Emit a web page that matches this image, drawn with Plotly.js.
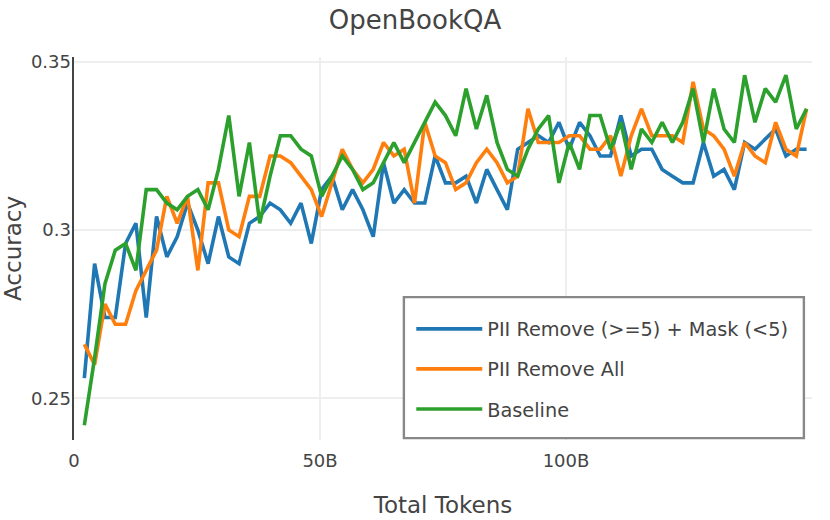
<!DOCTYPE html>
<html>
<head>
<meta charset="utf-8">
<script src="https://cdn.plot.ly/plotly-3.0.1.min.js"></script>
<style>html,body{margin:0;padding:0;background:#fff;}#chart{width:830px;height:520px;}</style>
</head>
<body>
<div id="chart"></div>
<script>
// Total tokens (billions)
const tokensB = [2.10,4.19,6.29,8.39,10.49,12.58,14.68,16.78,18.87,20.97,23.07,25.17,27.26,29.36,31.46,33.55,35.65,37.75,39.85,41.94,44.04,46.14,48.23,50.33,52.43,54.53,56.62,58.72,60.82,62.91,65.01,67.11,69.21,71.30,73.40,75.50,77.59,79.69,81.79,83.89,85.98,88.08,90.18,92.27,94.37,96.47,98.57,100.66,102.76,104.86,106.95,109.05,111.15,113.25,115.34,117.44,119.54,121.63,123.73,125.83,127.93,130.02,132.12,134.22,136.31,138.41,140.51,142.61,144.70,146.80,148.90];

const piiRemoveMask = [0.256,0.290,0.274,0.274,0.296,0.302,0.274,0.304,0.292,0.298,0.308,0.300,0.290,0.304,0.292,0.290,0.302,0.304,0.308,0.306,0.302,0.308,0.296,0.312,0.316,0.306,0.312,0.306,0.298,0.320,0.308,0.312,0.308,0.308,0.322,0.314,0.314,0.316,0.308,0.318,0.312,0.306,0.324,0.326,0.328,0.326,0.332,0.324,0.332,0.328,0.322,0.322,0.334,0.322,0.324,0.324,0.318,0.316,0.314,0.314,0.326,0.316,0.318,0.312,0.326,0.324,0.327,0.330,0.322,0.324,0.324];

const piiRemoveAll = [0.266,0.260,0.278,0.272,0.272,0.282,0.288,0.294,0.310,0.302,0.310,0.288,0.314,0.314,0.300,0.298,0.310,0.310,0.322,0.322,0.320,0.316,0.312,0.304,0.314,0.324,0.318,0.314,0.318,0.326,0.322,0.324,0.308,0.332,0.322,0.320,0.312,0.314,0.320,0.324,0.320,0.314,0.316,0.336,0.326,0.326,0.326,0.328,0.328,0.324,0.324,0.328,0.316,0.328,0.336,0.328,0.328,0.328,0.326,0.344,0.330,0.328,0.324,0.316,0.326,0.322,0.320,0.332,0.324,0.322,0.336];

const baseline = [0.242,0.262,0.284,0.294,0.296,0.288,0.312,0.312,0.308,0.306,0.310,0.312,0.306,0.318,0.334,0.310,0.326,0.302,0.316,0.328,0.328,0.324,0.322,0.310,0.316,0.322,0.318,0.312,0.314,0.320,0.326,0.320,0.326,0.332,0.338,0.334,0.328,0.342,0.330,0.340,0.326,0.318,0.316,0.324,0.330,0.334,0.314,0.326,0.318,0.334,0.334,0.324,0.332,0.318,0.330,0.326,0.332,0.326,0.332,0.342,0.326,0.342,0.330,0.326,0.346,0.332,0.342,0.338,0.346,0.330,0.336];

const seriesNames = ["PII Remove (>=5) + Mask (<5)", "PII Remove All", "Baseline"];
const seriesColors = ["#1f77b4", "#ff7f0e", "#2ca02c"];
const xTickVals = [0, 50, 100];
const xTickText = ["0", "50B", "100B"];
const yTickVals = [0.25, 0.3, 0.35];
const yTickText = ["0.25", "0.3", "0.35"];

const FONT = "DejaVu Sans, Verdana, sans-serif";
const series = [piiRemoveMask, piiRemoveAll, baseline];
const traces = series.map((ys, i) => ({
  type: "scatter",
  mode: "lines",
  x: tokensB,
  y: ys,
  name: seriesNames[i],
  legendgroup: "g" + i,
  line: {color: seriesColors[i], width: 3.6}
}));

const layout = {
  width: 830, height: 520,
  margin: {l: 74, r: 18, t: 57, b: 80},
  paper_bgcolor: "#fff", plot_bgcolor: "#fff",
  font: {family: FONT, color: "#444", size: 18},
  title: {text: "OpenBookQA", font: {family: FONT, size: 26, color: "#444"}, x: 0.5, xanchor: "center", y: 0.962, yanchor: "middle"},
  xaxis: {
    range: [0, 150],
    tickvals: xTickVals, ticktext: xTickText,
    showgrid: true, gridcolor: "#eeeeee", gridwidth: 2,
    zeroline: false, showline: false, ticks: "",
    tickfont: {size: 18}, ticklabelstandoff: 8,
    title: {text: "Total Tokens", font: {size: 23}, standoff: 26}
  },
  yaxis: {
    range: [0.2376, 0.3514],
    tickvals: yTickVals, ticktext: yTickText,
    showgrid: true, gridcolor: "#eeeeee", gridwidth: 2,
    zeroline: false, showline: true, linecolor: "#444", linewidth: 2.4, ticks: "",
    tickfont: {size: 18}, ticklabelstandoff: -3,
    title: {text: "Accuracy", font: {size: 23}, standoff: 12}
  },
  shapes: [{
    type: "rect", xref: "paper", yref: "paper", layer: "above",
    x0: 0.447, x1: 0.989, y0: 0.005, y1: 0.373,
    fillcolor: "#fff", line: {color: "#888", width: 2.4}
  }],
  legend: {
    x: 0.457, xanchor: "left", y: 0.340, yanchor: "top",
    bgcolor: "rgba(0,0,0,0)", borderwidth: 0,
    font: {size: 19.3, color: "#444"},
    itemwidth: 66,
    tracegroupgap: 12, traceorder: "grouped"
  },
  showlegend: true
};

Plotly.newPlot("chart", traces, layout, {displayModeBar: false, staticPlot: true});
</script>
</body>
</html>
